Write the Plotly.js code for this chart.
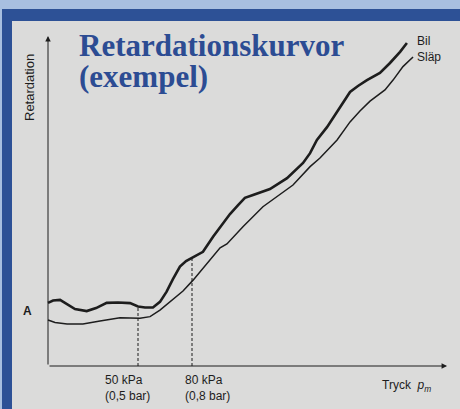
<!DOCTYPE html>
<html><head><meta charset="utf-8">
<script src="https://cdn.plot.ly/plotly-3.0.1.min.js"></script>
<style>html,body{margin:0;padding:0;background:#a8bfe0;} #chart{width:460px;height:409px;}</style>
</head><body><div id="chart"></div>
<script>
// Tryck (kPa) and Retardation (arbitrary units)
const bilX = [0, 2.8, 6.7, 10.6, 15, 21.5, 26.7, 32.6, 38.9, 45.6, 50, 53.9, 58.3, 62.2, 65.9, 69.4, 73.3, 76.7, 80.6, 86.1, 91.7, 97.2, 101.1, 105.6, 109.4, 113.9, 118.9, 123.3, 132.8, 141.7, 145.6, 149.4, 155, 162.2, 167.8, 172.2, 177.2, 184.4, 190, 195.6, 199.4];
const bilY = [19.2, 19.9, 20.1, 18.8, 17.3, 16.7, 17.6, 19.2, 19.3, 19.1, 18.1, 17.8, 17.8, 19.5, 22.6, 26.4, 30.2, 31.9, 33.1, 34.7, 39.3, 43.5, 46.2, 48.9, 51.1, 52, 52.9, 53.8, 57.1, 61.7, 64.7, 68.7, 72.6, 78.4, 83.3, 85.1, 86.9, 89.1, 92.1, 95.5, 98.2];
const slapX = [0, 3.9, 10.6, 19.4, 28.9, 40, 51.1, 56.7, 62.2, 69.4, 75, 80.6, 90, 95.6, 99.4, 108.3, 119.4, 128.9, 136.1, 145.6, 151.1, 160.6, 167.8, 173.3, 178.9, 187.2, 191.7, 197.2, 201.1, 202.8];
const slapY = [14, 13.2, 12.8, 12.8, 13.7, 14.7, 14.5, 15, 17, 20.1, 22.8, 26.1, 32.2, 35.9, 37.1, 42.3, 48.4, 52.3, 55, 60.6, 63.2, 68.7, 74.2, 77.5, 80.5, 83.9, 86.9, 91, 93.2, 93.9];
const seriesNames = ['Bil', 'Släp'];
const markX = [50, 80];
const markY = [18.1, 33.1];
const markLabels = ['50 kPa<br>(0,5 bar)', '80 kPa<br>(0,8 bar)'];
const xMax = 221.7;
const yMax = 100.3;

const ink = '#1d1d1d';
const traces = [
  {x: bilX, y: bilY, name: seriesNames[0], mode: 'lines', line: {color: ink, width: 2.6}},
  {x: slapX, y: slapY, name: seriesNames[1], mode: 'lines', line: {color: ink, width: 1.5}}
];

const shapes = [
  {type: 'rect', xref: 'paper', yref: 'paper', x0: 2/460, x1: 1.02, y0: -0.02, y1: 1 - 9/409, fillcolor: '#2d5196', line: {width: 0}, layer: 'below'},
  {type: 'rect', xref: 'paper', yref: 'paper', x0: 12/460, x1: 1.02, y0: -0.02, y1: 1 - 21/409, fillcolor: '#dbdbda', line: {width: 0}, layer: 'below'}
];
markX.forEach((mx, i) => shapes.push({type: 'line', xref: 'x', yref: 'y', x0: mx, x1: mx, y0: 0, y1: markY[i], line: {color: ink, width: 1, dash: '3px,2px'}}));

const lab = {family: 'Liberation Sans, Arial, sans-serif', size: 12, color: '#1d1d1d'};
const titleFont = {family: 'Liberation Serif, Times New Roman, serif', size: 31, color: '#2c4c93'};
const annotations = [
  {x: 0, y: yMax, ax: 0, ay: 0, axref: 'x', ayref: 'y', xref: 'x', yref: 'y', text: '', showarrow: true, arrowhead: 2, arrowsize: 1.1, arrowwidth: 1, arrowcolor: ink},
  {x: xMax, y: 0, ax: 0, ay: 0, axref: 'x', ayref: 'y', xref: 'x', yref: 'y', text: '', showarrow: true, arrowhead: 2, arrowsize: 1.1, arrowwidth: 1, arrowcolor: ink},
  {xref: 'paper', yref: 'paper', x: 78/460, y: 1 - 64/409, xanchor: 'left', yanchor: 'bottom', borderpad: 0, text: '<b>Retardationskurvor</b>', showarrow: false, font: titleFont},
  {xref: 'paper', yref: 'paper', x: 78/460, y: 1 - 95/409, xanchor: 'left', yanchor: 'bottom', borderpad: 0, text: '<b>(exempel)</b>', showarrow: false, font: titleFont},
  {xref: 'paper', yref: 'paper', x: 29/460, y: 1 - 88/409, xanchor: 'center', yanchor: 'middle', text: 'Retardation', textangle: -90, showarrow: false, font: {family: lab.family, size: 13, color: lab.color}},
  {xref: 'paper', yref: 'paper', x: 27/460, y: 1 - 311/409, xanchor: 'center', yanchor: 'middle', text: '<b>A</b>', showarrow: false, font: lab},
  {xref: 'paper', yref: 'paper', x: 415/460, y: 1 - 41/409, xanchor: 'left', yanchor: 'middle', text: seriesNames[0], showarrow: false, font: lab},
  {xref: 'paper', yref: 'paper', x: 415/460, y: 1 - 57/409, xanchor: 'left', yanchor: 'middle', text: seriesNames[1], showarrow: false, font: lab},
  {xref: 'paper', yref: 'paper', x: 380/460, y: 1 - 386/409, xanchor: 'left', yanchor: 'middle', text: 'Tryck  <i>p<sub>m</sub></i>', showarrow: false, font: lab}
];
const labelX = [30.5, 75];
markLabels.forEach((t, i) => annotations.push({xref: 'x', yref: 'paper', x: labelX[i], y: 1 - 388/409, xanchor: 'left', yanchor: 'middle', align: 'left', text: t, showarrow: false, font: lab}));

const layout = {
  width: 460, height: 409,
  margin: {l: 0, r: 0, t: 0, b: 0, pad: 0},
  paper_bgcolor: '#a8bfe0',
  plot_bgcolor: 'rgba(0,0,0,0)',
  showlegend: false,
  xaxis: {range: [-48/1.8, 412/1.8], visible: false, fixedrange: true},
  yaxis: {range: [-43/3.29, 366/3.29], visible: false, fixedrange: true},
  shapes: shapes,
  annotations: annotations
};
Plotly.newPlot('chart', traces, layout, {staticPlot: true, displayModeBar: false});
</script>
</body></html>
